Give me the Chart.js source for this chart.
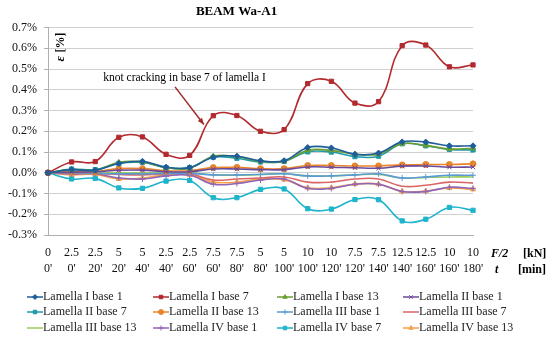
<!DOCTYPE html>
<html>
<head>
<meta charset="utf-8">
<script src="https://cdn.jsdelivr.net/npm/chart.js@4.4.0/dist/chart.umd.min.js"></script>
<style>
	body { margin: 0; background: #fff; }
	#wrap { width: 550px; height: 342px; }
</style>
</head>
<body>
<div id="wrap"><canvas id="myChart" width="550" height="342"></canvas></div>
<script>
'use strict';
// *** Data ***
const aryForce = ['0', '2.5', '2.5', '5', '5', '2.5', '2.5', '7.5', '7.5', '5', '5', '10', '10', '7.5', '7.5', '12.5', '12.5', '10', '10'];
const aryTime = ["0'", "0'", "20'", "20'", "40'", "40'", "60'", "60'", "80'", "80'", "100'", "100'", "120'", "120'", "140'", "140'", "160'", "160'", "180'"];
const yTicks = [-0.3, -0.2, -0.1, 0.0, 0.1, 0.2, 0.3, 0.4, 0.5, 0.6, 0.7];

const lamI1 = [0, 0.015, 0.012, 0.045, 0.055, 0.027, 0.025, 0.075, 0.08, 0.058, 0.058, 0.122, 0.12, 0.089, 0.095, 0.149, 0.148, 0.13, 0.13];
const lamI7 = [0, 0.052, 0.054, 0.171, 0.173, 0.089, 0.084, 0.275, 0.276, 0.2, 0.208, 0.43, 0.441, 0.336, 0.343, 0.613, 0.616, 0.511, 0.52];
const lamI13 = [0, 0.015, 0.012, 0.05, 0.052, 0.025, 0.022, 0.08, 0.078, 0.055, 0.055, 0.108, 0.108, 0.09, 0.09, 0.14, 0.132, 0.115, 0.118];
const lamII1 = [0, 0.003, 0.005, 0.012, 0.013, 0.005, 0.005, 0.018, 0.018, 0.015, 0.015, 0.028, 0.027, 0.024, 0.022, 0.032, 0.033, 0.027, 0.028];
const lamII7 = [0, 0.018, 0.015, 0.045, 0.05, 0.025, 0.025, 0.075, 0.07, 0.052, 0.055, 0.101, 0.1, 0.078, 0.08, 0.14, 0.13, 0.113, 0.11];
const lamII13 = [0, 0.006, 0.006, 0.02, 0.02, 0.01, 0.01, 0.025, 0.026, 0.02, 0.02, 0.035, 0.035, 0.033, 0.033, 0.038, 0.04, 0.04, 0.043];
const lamIII1 = [0, 0.0, -0.002, -0.005, -0.005, -0.003, -0.003, -0.01, -0.01, -0.008, -0.005, -0.015, -0.015, -0.01, -0.005, -0.025, -0.02, -0.012, -0.012];
const lamIII7 = [0, -0.002, -0.003, -0.008, -0.01, -0.005, -0.005, -0.035, -0.03, -0.025, -0.02, -0.045, -0.045, -0.03, -0.03, -0.065, -0.06, -0.045, -0.05];
const lamIII13 = [0, 0.002, 0.002, 0.0, 0.0, 0.0, 0.0, -0.01, -0.012, -0.008, -0.005, -0.015, -0.015, -0.01, -0.008, -0.025, -0.022, -0.02, -0.02];
const lamIV1 = [0, -0.005, -0.005, -0.025, -0.03, -0.015, -0.012, -0.055, -0.052, -0.035, -0.03, -0.075, -0.075, -0.055, -0.055, -0.09, -0.09, -0.07, -0.075];
const lamIV7 = [0, -0.03, -0.027, -0.073, -0.075, -0.04, -0.037, -0.12, -0.12, -0.08, -0.078, -0.173, -0.175, -0.129, -0.13, -0.232, -0.224, -0.167, -0.181];
const lamIV13 = [0, -0.01, -0.008, -0.03, -0.025, -0.01, -0.01, -0.045, -0.045, -0.03, -0.033, -0.072, -0.072, -0.054, -0.055, -0.09, -0.088, -0.073, -0.08];

const SERIF = '"Liberation Serif", "DejaVu Serif", serif';

function makeSet(label, data, color, style) {
	return {
		label: label,
		data: data,
		borderColor: color,
		backgroundColor: color,
		borderWidth: 1.6,
		pointStyle: style || false,
		pointRadius: style ? 3 : 0,
		pointBorderWidth: 1,
		tension: 0.4,
	};
}

function prepareDataSets() {
	let aryDataSets = [];
	aryDataSets.push(makeSet('Lamella I base 1', lamI1, '#1f5e99', 'rectRot'));
	aryDataSets.push(makeSet('Lamella I base 7', lamI7, '#b22a2e', 'rect'));
	aryDataSets.push(makeSet('Lamella I base 13', lamI13, '#6a9e32', 'triangle'));
	aryDataSets.push(makeSet('Lamella II base 1', lamII1, '#6b4a9b', 'crossRot'));
	aryDataSets.push(makeSet('Lamella II base 7', lamII7, '#1e9aa8', 'rect'));
	aryDataSets.push(makeSet('Lamella II base 13', lamII13, '#e8842a', 'circle'));
	aryDataSets.push(makeSet('Lamella III base 1', lamIII1, '#5b9bd5', 'cross'));
	aryDataSets.push(makeSet('Lamella III base 7', lamIII7, '#db6565', null));
	aryDataSets.push(makeSet('Lamella III base 13', lamIII13, '#9ccb5e', null));
	aryDataSets.push(makeSet('Lamella IV base 1', lamIV1, '#8f65b8', 'cross'));
	aryDataSets.push(makeSet('Lamella IV base 7', lamIV7, '#1eb4cc', 'rect'));
	aryDataSets.push(makeSet('Lamella IV base 13', lamIV13, '#f6a04a', 'triangle'));
	return aryDataSets;
}

// extra texts: axis captions, annotation, legend in 4 columns
const extrasPlugin = {
	id: 'extras',
	afterDraw(chart) {
		const ctx = chart.ctx;
		const xs = chart.scales.x;
		const ys = chart.scales.y;
		const area = chart.chartArea;
		ctx.save();

		// epsilon label
		ctx.translate(area.left + 13, area.top + 20);
		ctx.rotate(-Math.PI / 2);
		ctx.fillStyle = '#000';
		ctx.textBaseline = 'middle';
		ctx.textAlign = 'left';
		ctx.font = 'italic bold 13px ' + SERIF;
		ctx.fillText('ε', -14, 0);
		ctx.font = 'bold 12px ' + SERIF;
		ctx.fillText('[%]', -5, 0);
		ctx.setTransform(1, 0, 0, 1, 0, 0);

		// unit captions right of x axis
		const row1 = area.bottom + 19;
		const row2 = area.bottom + 35;
		ctx.textAlign = 'left';
		ctx.font = 'italic bold 12px ' + SERIF;
		ctx.fillText('F/2', area.right + 18, row1);
		ctx.fillText('t', area.right + 22, row2);
		ctx.font = 'bold 12px ' + SERIF;
		ctx.fillText('[kN]', area.right + 50, row1);
		ctx.fillText('[min]', area.right + 45, row2);

		// annotation
		ctx.font = '11.5px ' + SERIF;
		ctx.textAlign = 'center';
		ctx.fillText('knot cracking in base 7 of lamella I', xs.getPixelForValue(5.78), ys.getPixelForValue(0.457));
		const x0 = xs.getPixelForValue(5.38), y0 = ys.getPixelForValue(0.414);
		const x1 = xs.getPixelForValue(6.6), y1 = ys.getPixelForValue(0.233);
		ctx.strokeStyle = '#a52a2a';
		ctx.fillStyle = '#a52a2a';
		ctx.lineWidth = 1.5;
		ctx.beginPath();
		ctx.moveTo(x0, y0);
		ctx.lineTo(x1, y1);
		ctx.stroke();
		const ang = Math.atan2(y1 - y0, x1 - x0);
		ctx.beginPath();
		ctx.moveTo(x1, y1);
		ctx.lineTo(x1 - 7 * Math.cos(ang - 0.4), y1 - 7 * Math.sin(ang - 0.4));
		ctx.lineTo(x1 - 7 * Math.cos(ang + 0.4), y1 - 7 * Math.sin(ang + 0.4));
		ctx.closePath();
		ctx.fill();

		// legend
		const colX = [27, 153, 277, 403];
		const rowY = [297, 312, 328];
		ctx.font = '12px ' + SERIF;
		ctx.textAlign = 'left';
		chart.data.datasets.forEach((ds, i) => {
			const lx = colX[i % 4];
			const ly = rowY[Math.floor(i / 4)];
			ctx.strokeStyle = ds.borderColor;
			ctx.lineWidth = 1.5;
			ctx.beginPath();
			ctx.moveTo(lx, ly);
			ctx.lineTo(lx + 16, ly);
			ctx.stroke();
			if (ds.pointStyle) {
				ctx.fillStyle = ds.backgroundColor;
				ctx.strokeStyle = ds.borderColor;
				ctx.lineWidth = 1;
				Chart.helpers.drawPoint(ctx, { pointStyle: ds.pointStyle, radius: 2.5, rotation: 0, borderWidth: 1 }, lx + 8, ly);
			}
			ctx.fillStyle = '#222';
			ctx.fillText(ds.label, lx + 16, ly);
		});
		ctx.restore();
	},
};

function prepareOptions() {
	return {
		responsive: false,
		animation: false,
		layout: { padding: { left: 0, right: 77, top: 0, bottom: 0 } },
		plugins: {
			legend: { display: false },
			tooltip: { enabled: false },
			title: {
				display: true,
				text: 'BEAM Wa-A1',
				color: '#000',
				font: { family: SERIF, size: 13, weight: 'bold' },
				padding: { top: 4, bottom: 8 },
			},
		},
		scales: {
			x: {
				type: 'category',
				offset: false,
				grid: { display: false, drawTicks: true, tickLength: 5, tickColor: '#b0b0b0' },
				border: { color: '#b0b0b0' },
				ticks: {
					autoSkip: false,
					maxRotation: 0,
					padding: 5,
					color: '#111',
					font: { family: SERIF, size: 12, lineHeight: 1.35 },
				},
				afterFit(scale) { scale.height = 107; },
			},
			y: {
				min: -0.3,
				max: 0.7,
				afterBuildTicks(scale) { scale.ticks = yTicks.map((v) => ({ value: v })); },
				grid: { color: '#d0d0d0', lineWidth: 1, tickLength: 4, tickColor: '#b0b0b0' },
				border: { color: '#b0b0b0' },
				ticks: {
					padding: 7,
					color: '#111',
					font: { family: SERIF, size: 12 },
					callback: (v) => v.toFixed(1) + '%',
				},
				afterFit(scale) { scale.width = 48; },
			},
		},
	};
}

function chartIt() {
	const labels = aryForce.map((f, i) => [f, aryTime[i]]);
	const config = {
		type: 'line',
		data: { labels: labels, datasets: prepareDataSets() },
		options: prepareOptions(),
		plugins: [extrasPlugin],
	};
	return new Chart(document.getElementById('myChart'), config);
}

// *** Entry Point ***
const myChart = chartIt();
</script>
</body>
</html>
